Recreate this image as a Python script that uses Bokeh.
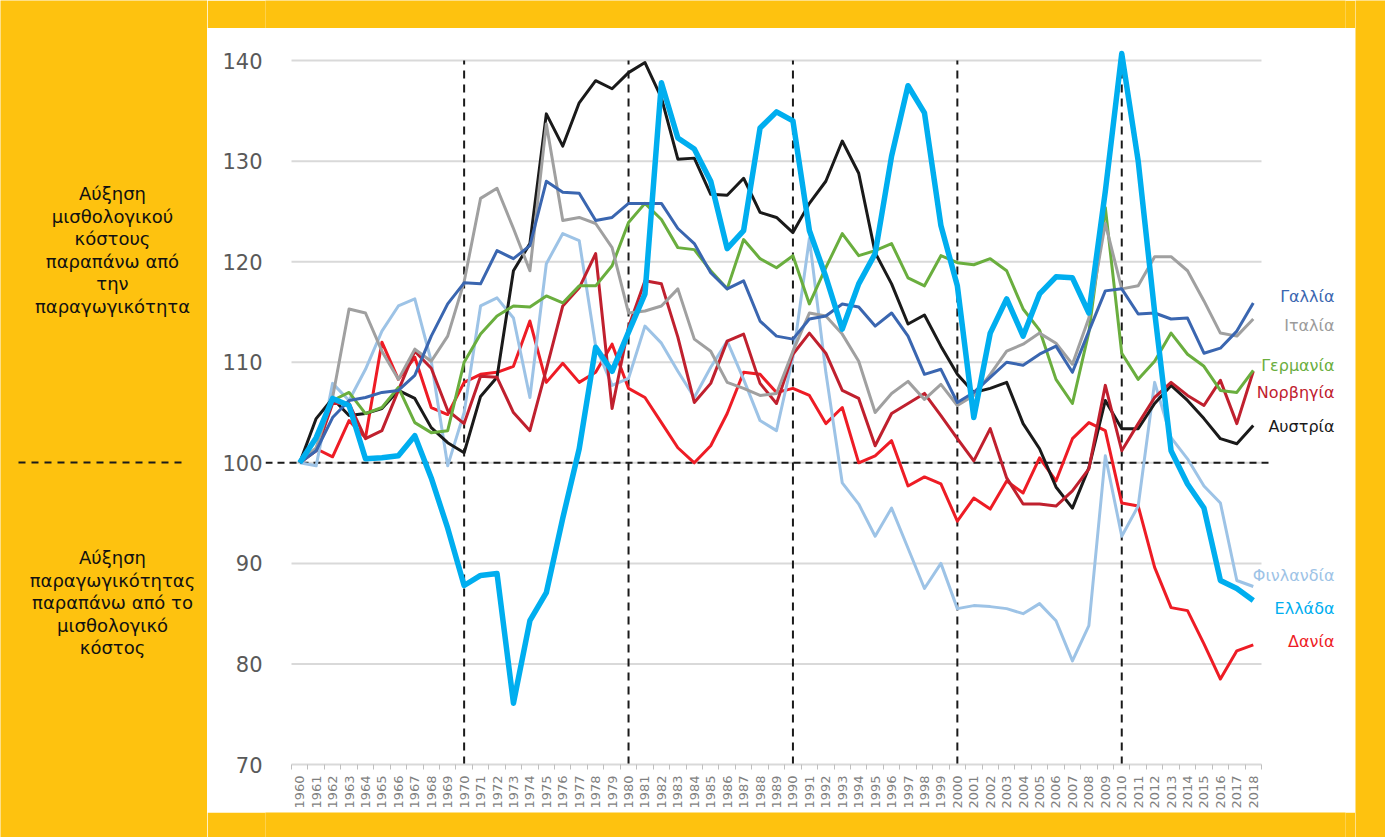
from bokeh.plotting import figure
from bokeh.models import ColumnDataSource, FixedTicker, Range1d
from bokeh.layouts import row, column
from bokeh.core.properties import value
from bokeh.embed import file_html
from bokeh.resources import INLINE
from math import pi

years = list(range(1960, 2019))

greece = [100, 102.5, 106.4, 105.7, 100.4, 100.5, 100.7, 102.7, 98.5, 93.5,
          87.8, 88.8, 89.0, 76.1, 84.3, 87.1, 94.5, 101.4, 111.5, 109.1,
          113.0, 116.8, 137.8, 132.3, 131.2, 128.0, 121.3, 123.1, 133.3, 134.9,
          134.0, 123.1, 118.5, 113.3, 117.8, 120.8, 130.5, 137.5, 134.8, 123.6,
          117.6, 104.5, 112.9, 116.3, 112.6, 116.8, 118.5, 118.4, 114.9, 127.0,
          140.7, 130.0, 115.0, 101.2, 97.9, 95.5, 88.3, 87.5, 86.3]
france = [100, 101.2, 104.5, 106.2, 106.5, 107.0, 107.2, 108.7, 112.6, 115.8,
          117.9, 117.8, 121.1, 120.3, 121.6, 128.0, 126.9, 126.8, 124.1, 124.4,
          125.8, 125.8, 125.8, 123.3, 121.8, 118.9, 117.3, 118.1, 114.1, 112.6,
          112.3, 114.3, 114.6, 115.8, 115.5, 113.6, 114.9, 112.6, 108.8, 109.3,
          106.0, 107.0, 108.5, 110.0, 109.7, 110.8, 111.6, 109.0, 113.1, 117.1,
          117.3, 114.8, 114.9, 114.3, 114.4, 110.9, 111.4, 113.1, 115.9]
italy = [100, 101.5, 106.5, 115.3, 114.9, 111.1, 108.3, 111.3, 110.1, 112.6,
         118.0, 126.3, 127.3, 123.3, 119.1, 133.7, 124.1, 124.4, 123.8, 121.4,
         114.9, 115.1, 115.6, 117.3, 112.3, 111.1, 108.0, 107.4, 106.7, 106.9,
         111.1, 114.9, 114.6, 112.8, 110.1, 105.0, 106.9, 108.1, 106.3, 107.8,
         105.7, 106.7, 108.8, 111.1, 111.8, 112.9, 111.9, 109.8, 114.4, 123.8,
         117.3, 117.6, 120.5, 120.5, 119.1, 116.1, 112.9, 112.6, 114.3]
germany = [100, 102.5, 106.2, 107.0, 104.9, 105.5, 107.5, 104.0, 103.0, 103.2,
           110.0, 112.8, 114.6, 115.6, 115.5, 116.6, 115.9, 117.6, 117.6, 119.6,
           123.9, 125.8, 124.2, 121.4, 121.2, 119.1, 117.3, 122.2, 120.3, 119.4,
           120.6, 115.8, 119.4, 122.8, 120.6, 121.1, 121.8, 118.4, 117.6, 120.6,
           119.9, 119.7, 120.3, 119.1, 115.3, 113.2, 108.3, 105.9, 113.0, 125.4,
           110.9, 108.3, 110.1, 112.9, 110.8, 109.6, 107.2, 107.0, 109.2]
norway = [100, 101.2, 105.9, 105.9, 102.4, 103.2, 107.2, 111.1, 109.4, 105.2,
          103.9, 108.6, 108.5, 105.0, 103.2, 109.3, 115.6, 117.4, 120.8, 105.4,
          113.5, 118.1, 117.8, 112.5, 106.0, 107.9, 112.1, 112.8, 107.9, 105.9,
          110.8, 112.9, 110.9, 107.2, 106.4, 101.7, 104.9, 105.9, 106.9, 104.7,
          102.4, 100.2, 103.4, 98.5, 95.9, 95.9, 95.7, 97.2, 99.4, 107.7,
          101.2, 103.9, 106.5, 108.0, 106.7, 105.7, 108.2, 103.9, 109.1]
austria = [100, 104.4, 106.4, 104.7, 104.9, 105.4, 107.2, 106.4, 103.5, 102.0,
           101.0, 106.6, 108.5, 119.1, 121.8, 134.7, 131.5, 135.8, 138.0, 137.2,
           138.8, 139.8, 136.3, 130.2, 130.3, 126.7, 126.6, 128.3, 124.9, 124.4,
           122.9, 125.8, 128.0, 132.0, 128.8, 120.9, 117.8, 113.8, 114.7, 111.6,
           108.8, 107.0, 107.4, 108.0, 103.9, 101.4, 97.6, 95.5, 99.5, 106.2,
           103.4, 103.4, 105.9, 107.7, 106.2, 104.4, 102.4, 101.9, 103.7]
finland = [100, 99.7, 107.9, 106.2, 109.3, 113.1, 115.6, 116.3, 110.1, 99.7,
           105.0, 115.6, 116.4, 114.4, 106.5, 119.8, 122.8, 122.1, 111.6, 107.7,
           108.4, 113.6, 111.9, 109.1, 106.5, 109.5, 112.1, 108.3, 104.2, 103.2,
           110.5, 122.3, 109.0, 98.0, 95.9, 92.7, 95.5, 91.5, 87.5, 90.0,
           85.5, 85.8, 85.7, 85.5, 85.0, 86.0, 84.3, 80.3, 83.8, 100.7,
           92.7, 95.7, 108.0, 102.5, 100.4, 97.7, 96.0, 88.3, 87.7]
denmark = [100, 101.4, 100.6, 104.2, 102.5, 112.0, 108.3, 110.5, 105.5, 104.8,
           108.0, 108.8, 109.0, 109.6, 114.1, 108.0, 109.9, 108.0, 109.0, 111.8,
           107.4, 106.5, 104.0, 101.5, 100.0, 101.7, 104.9, 109.0, 108.8, 107.0,
           107.4, 106.7, 103.9, 105.5, 100.0, 100.7, 102.2, 97.7, 98.6, 97.9,
           94.2, 96.5, 95.4, 98.2, 97.0, 100.5, 98.2, 102.4, 104.0, 103.2,
           96.0, 95.7, 89.6, 85.6, 85.3, 82.0, 78.5, 81.3, 81.9]

y_ticks = [70, 80, 90, 100, 110, 120, 130, 140]
decades = [1970, 1980, 1990, 2000, 2010]

series_names = ["Γαλλία", "Ιταλία", "Γερμανία", "Νορβηγία", "Αυστρία", "Φινλανδία", "Ελλάδα", "Δανία"]
top_lines = ["Αύξηση", "μισθολογικού", "κόστους", "παραπάνω από", "την", "παραγωγικότητα"]
bottom_lines = ["Αύξηση", "παραγωγικότητας", "παραπάνω από το", "μισθολογικό", "κόστος"]

source = ColumnDataSource(dict(year=years, greece=greece, france=france, italy=italy,
                               germany=germany, norway=norway, austria=austria,
                               finland=finland, denmark=denmark))

YELLOW = "#FEC20F"
FONT = "DejaVu Sans"
W, H = 1385, 837

# page geometry
WL, WR, WT, WB = 207, 1355, 28, 812          # white panel
FL, FR, FT, FB = 265, 1345, 45, 764          # plot frame
CAT_L, CAT_R = 291, 1261                     # pixel span of categories 1959.5..2018.5
X0, X1 = years[0] - 0.5, years[-1] + 0.5
XS = (X1 - X0) / (CAT_R - CAT_L)
Y0, Y1 = 70, 141.5
YS = (Y1 - Y0) / (FB - FT)


def dx(px):
    return X0 + (px - CAT_L) * XS


def dy(py):
    return Y1 - (py - FT) * YS


def blank(w, h):
    f = figure(width=w, height=h, x_axis_type=None, y_axis_type=None, toolbar_location=None,
               output_backend="svg", min_border=0, x_range=(0, 1), y_range=(0, 1))
    f.background_fill_color = YELLOW
    f.border_fill_color = YELLOW
    f.outline_line_color = None
    return f


# ---------------- main chart ----------------
p = figure(frame_width=FR - FL, frame_height=FB - FT,
           min_border_left=FL - WL, min_border_right=WR - FR,
           min_border_top=FT - WT, min_border_bottom=WB - FB,
           x_range=Range1d(dx(FL), dx(FR)), y_range=Range1d(Y0, Y1),
           output_backend="svg", toolbar_location=None, title=None)
p.border_fill_color = "white"
p.background_fill_color = "white"
p.outline_line_color = None
p.xgrid.grid_line_color = None
p.ygrid.grid_line_color = None

# gridlines only across the categories
grid_vals = y_ticks[1:]
p.segment(x0=[X0] * len(grid_vals), y0=grid_vals, x1=[X1] * len(grid_vals), y1=grid_vals,
          line_color="#D9D9D9", line_width=2)

# y axis
p.yaxis.ticker = FixedTicker(ticks=y_ticks)
p.yaxis.axis_line_color = None
p.yaxis.major_tick_line_color = None
p.yaxis.minor_tick_line_color = None
p.yaxis.major_tick_out = 0
p.yaxis.major_label_standoff = 3
p.yaxis.major_label_text_font = FONT
p.yaxis.major_label_text_font_size = "21px"
p.yaxis.major_label_text_color = "#595959"

# x axis
p.xaxis.ticker = FixedTicker(ticks=years, minor_ticks=[y - 0.5 for y in years] + [years[-1] + 0.5])
p.xaxis.bounds = (X0, X1)
p.xaxis.major_label_overrides = {y: str(y) for y in years}
p.xaxis.major_label_orientation = pi / 2
p.xaxis.axis_line_color = "#D9D9D9"
p.xaxis.axis_line_width = 2
p.xaxis.major_tick_line_color = None
p.xaxis.major_tick_out = 0
p.xaxis.minor_tick_line_color = "#BFBFBF"
p.xaxis.minor_tick_line_width = 1
p.xaxis.minor_tick_out = 5
p.xaxis.minor_tick_in = 0
p.xaxis.major_label_standoff = 6
p.xaxis.major_label_text_font = FONT
p.xaxis.major_label_text_font_size = "13px"
p.xaxis.major_label_text_color = "#7F7F7F"

# vertical decade dashed lines
p.segment(x0=decades, y0=[70] * len(decades), x1=decades, y1=[140] * len(decades),
          line_color="#1A1A1A", line_width=2, line_dash="8 6")

# horizontal dashed line at 100
p.segment(x0=[dx(FL)], y0=[100], x1=[dx(1270)], y1=[100],
          line_color="#1A1A1A", line_width=2, line_dash="7 5")

styles = [
    ("denmark", "#EE1C25", 3),
    ("finland", "#9DC3E6", 3),
    ("austria", "#1A1A1A", 3),
    ("norway", "#C0202E", 3),
    ("germany", "#6AAE3E", 3),
    ("italy", "#A0A0A0", 3),
    ("france", "#3A66B0", 3),
    ("greece", "#00AEEF", 5.5),
]
for col, color, w in styles:
    p.line(x="year", y=col, source=source, line_color=color, line_width=w, line_join="round")

# right-side series labels
label_colors = ["#3A66B0", "#9B9B9B", "#6AAE3E", "#C0202E", "#1A1A1A", "#9DC3E6", "#00AEEF", "#EE1C25"]
label_py = [296, 325, 365, 392, 426, 575, 608, 641]
p.text(x=[dx(1334)] * len(series_names), y=[dy(v) for v in label_py], text=series_names,
       text_color=label_colors, text_align="right", text_baseline="middle",
       text_font=value(FONT), text_font_size="16px")

# ---------------- left yellow panel ----------------
left = figure(width=WL, height=H, x_axis_type=None, y_axis_type=None, toolbar_location=None,
              output_backend="svg", min_border=0, x_range=Range1d(0, WL), y_range=Range1d(H, 0))
left.background_fill_color = YELLOW
left.border_fill_color = YELLOW
left.outline_line_color = None
ly = [193 + i * 22.6 for i in range(len(top_lines))] + [557 + i * 22.6 for i in range(len(bottom_lines))]
left.text(x=[112] * len(ly), y=ly, text=top_lines + bottom_lines, text_color="#111111",
          text_align="center", text_baseline="middle", text_font=value(FONT), text_font_size="18px")
left.segment(x0=[18], y0=[462], x1=[184], y1=[462], line_color="#1A1A1A", line_width=2, line_dash="7 6")

layout = row(left,
             column(blank(WR - WL, WT), p, blank(WR - WL, H - WB)),
             blank(W - WR, H))

open("out.html", "w").write(file_html(layout, INLINE))
